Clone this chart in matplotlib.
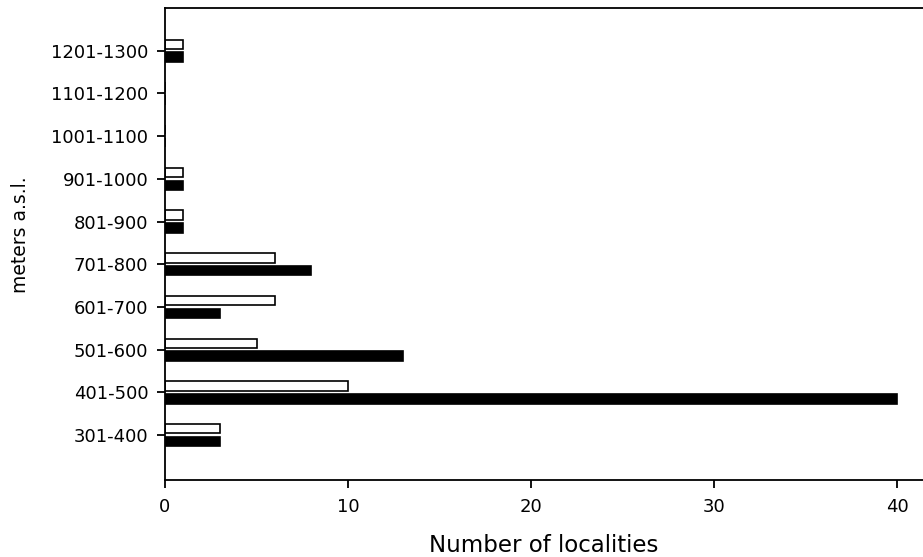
import numpy as np
import matplotlib.pyplot as plt

plt.rcParams['font.family'] = ['DejaVu Sans']

# altitude classes (bottom to top)
altitudes = ['301-400', '401-500', '501-600', '601-700', '701-800',
             '801-900', '901-1000', '1001-1100', '1101-1200', '1201-1300']
white_vals = [3, 10, 5, 6, 6, 1, 1, 0, 0, 1]
black_vals = [3, 40, 13, 3, 8, 1, 1, 0, 0, 1]

y = np.arange(len(altitudes))
h = 0.22
off = 0.15

fig = plt.figure(figsize=(9.23, 5.57), dpi=100)
ax = fig.add_axes([165 / 923, 77 / 557, 758 / 923, 472 / 557])

ax.barh(y + off, white_vals, height=h, color='white', edgecolor='black', linewidth=1.2)
ax.barh(y - off, black_vals, height=h, color='black', edgecolor='black', linewidth=1.2)

ax.set_xlim(0, 41.4)
ax.set_ylim(-1.05, 10.0)
ax.set_xticks([0, 10, 20, 30, 40])
ax.set_yticks(y)
ax.set_yticklabels(altitudes)
ax.tick_params(axis='both', direction='out', length=6, width=1.3, labelsize=13, pad=6)
ax.tick_params(axis='x', pad=7)

for s in ['left', 'bottom', 'top']:
    ax.spines[s].set_linewidth(1.3)
ax.spines['right'].set_visible(False)

ax.set_xlabel('Number of localities', fontsize=16.5)
ax.xaxis.set_label_coords(0.5, -0.115)
ax.set_ylabel('meters a.s.l.', fontsize=13.5)
ax.yaxis.set_label_coords(-0.178, 0.519)

fig.savefig('out.png', dpi=100)
